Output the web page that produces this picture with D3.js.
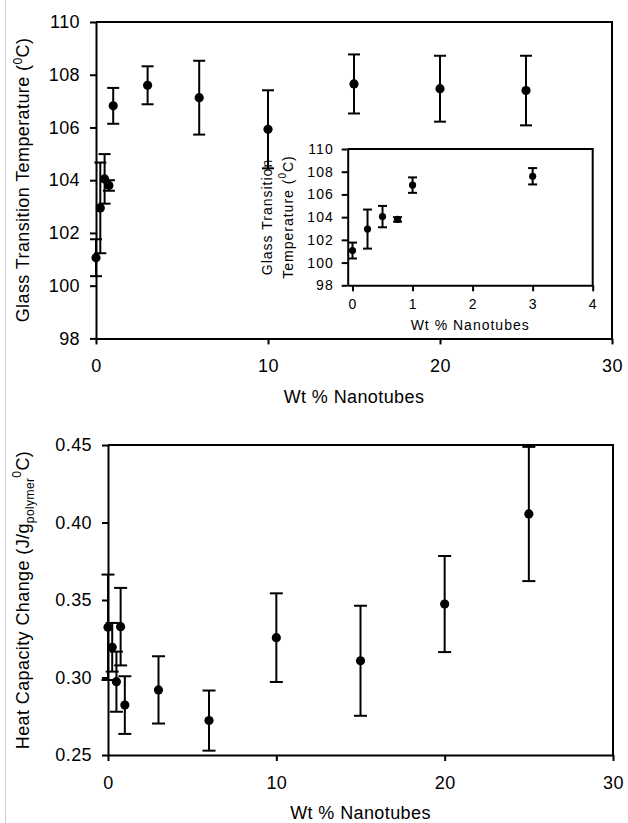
<!DOCTYPE html>
<html>
<head>
<meta charset="utf-8">
<script src="https://cdn.jsdelivr.net/npm/d3@7"></script>
<style>
  body { margin: 0; background: #fff; }
  svg { display: block; font-family: Arial, "Liberation Sans", sans-serif; }
</style>
</head>
<body>
<script>
// wt % nanotubes (same loadings for both panels)
var wt = [0, 0.25, 0.5, 0.75, 1, 3, 6, 10, 15, 20, 25];
// glass transition temperature (C) and its error bar
var tg    = [101.06, 102.95, 104.05, 103.8, 106.82, 107.6, 107.13, 105.93, 107.65, 107.47, 107.4];
var tgErr = [0.7, 1.72, 0.94, 0.2, 0.68, 0.72, 1.4, 1.48, 1.12, 1.25, 1.32];
// heat capacity change (J/g polymer C) and its error bar
var cp    = [0.3324, 0.3195, 0.2973, 0.3328, 0.2822, 0.292, 0.2722, 0.3257, 0.3108, 0.3474, 0.4055];
var cpErr = [0.034, 0.0157, 0.0194, 0.025, 0.0186, 0.0217, 0.0194, 0.0286, 0.0355, 0.031, 0.0433];

var wtTicks    = [0, 10, 20, 30];
var insetTicks = [0, 1, 2, 3, 4];
var tgTicks    = [98, 100, 102, 104, 106, 108, 110];
var cpTicks    = [0.25, 0.30, 0.35, 0.40, 0.45];

var width = 628, height = 823;

var svg = d3.select("body").append("svg")
    .attr("width", width)
    .attr("height", height);

// thin grey page edge on the left
svg.append("line")
    .attr("x1", 5.5).attr("x2", 5.5)
    .attr("y1", 0).attr("y2", height)
    .attr("stroke", "#cfcfcf")
    .attr("stroke-width", 1);

function panel(o)
{
    var g = svg.append("g");
    var xScale = d3.scaleLinear().domain(o.xDom).range(o.xRange);
    var yScale = d3.scaleLinear().domain(o.yDom).range(o.yRange);

    var left = o.xRange[0], right = o.xRange[1];
    var top = o.yRange[1], bottom = o.yRange[0];

    if (o.fill)
    {
        g.append("rect")
            .attr("x", left).attr("y", top)
            .attr("width", right - left).attr("height", bottom - top)
            .attr("fill", "#fff");
    }

    // top and right frame
    g.append("path")
        .attr("d", "M" + left + "," + top + "H" + right + "V" + bottom)
        .attr("fill", "none")
        .attr("stroke", "#000")
        .attr("stroke-width", 2);

    var xAxis = d3.axisBottom(xScale)
        .tickValues(o.xTicks)
        .tickSize(6).tickSizeOuter(0)
        .tickPadding(o.xPad)
        .tickFormat(d3.format("d"));
    var yAxis = d3.axisLeft(yScale)
        .tickValues(o.yTicks)
        .tickSize(6).tickSizeOuter(0)
        .tickPadding(o.yPad)
        .tickFormat(d3.format(o.yFmt));

    var gx = g.append("g")
        .attr("transform", "translate(0," + bottom + ")")
        .call(xAxis);
    var gy = g.append("g")
        .attr("transform", "translate(" + left + ",0)")
        .call(yAxis);

    [gx, gy].forEach(function (a)
    {
        a.select(".domain").attr("stroke-width", 2);
        a.selectAll(".tick line").attr("stroke-width", 2);
        a.selectAll("text")
            .attr("font-size", o.font + "px")
            .attr("font-family", "Arial, 'Liberation Sans', sans-serif")
            .attr("letter-spacing", o.spacing)
            .attr("fill", "#000");
    });

    // error bars
    var data = o.xs.map(function (x, i) { return {x: x, y: o.ys[i], e: o.errs[i]}; })
        .filter(function (d) { return d.x <= o.xDom[1]; });

    var bars = g.append("g")
        .attr("stroke", "#000")
        .attr("stroke-width", 2);
    data.forEach(function (d)
    {
        var cx = xScale(d.x);
        var yHi = yScale(d.y + d.e), yLo = yScale(d.y - d.e);
        bars.append("line").attr("x1", cx).attr("x2", cx).attr("y1", yHi).attr("y2", yLo);
        bars.append("line").attr("x1", cx - o.cap).attr("x2", cx + o.cap).attr("y1", yHi).attr("y2", yHi);
        bars.append("line").attr("x1", cx - o.cap).attr("x2", cx + o.cap).attr("y1", yLo).attr("y2", yLo);
    });

    g.append("g").selectAll("circle")
        .data(data)
        .enter().append("circle")
        .attr("cx", function (d) { return xScale(d.x); })
        .attr("cy", function (d) { return yScale(d.y); })
        .attr("r", o.r)
        .attr("fill", "#000");

    // x title
    g.append("text")
        .attr("x", (left + right) / 2)
        .attr("y", o.xTitleY)
        .attr("text-anchor", "middle")
        .attr("font-size", o.titleFont + "px")
        .attr("letter-spacing", o.spacing)
        .text("Wt % Nanotubes");

    return g;
}

function supC(t, size, prefix)
{
    // "(" + superscript 0 + "C)"
    t.append("tspan").text(prefix);
    t.append("tspan").attr("font-size", size + "px").attr("dy", -7).text("0");
    t.append("tspan").attr("dy", 7).text("C)");
}

// ---- top panel: glass transition temperature ----
panel({
    xDom: [0, 30], xRange: [96, 612],
    yDom: [98, 110], yRange: [338.4, 22],
    xTicks: wtTicks, yTicks: tgTicks, yFmt: "d",
    xPad: 15, yPad: 10, font: 18, titleFont: 18, spacing: 0.4,
    xs: wt, ys: tg, errs: tgErr, r: 4.6, cap: 6,
    xTitleY: 403
});

var t1 = svg.append("text")
    .attr("transform", "translate(29,180) rotate(-90)")
    .attr("text-anchor", "middle")
    .attr("font-size", "18px")
    .attr("letter-spacing", 0.4);
supC(t1, 12, "Glass Transition Temperature (");

// inset
panel({
    xDom: [-0.08, 4], xRange: [347.7, 592.7],
    yDom: [98, 110], yRange: [285.3, 149],
    xTicks: insetTicks, yTicks: tgTicks, yFmt: "d",
    xPad: 8, yPad: 8, font: 14, titleFont: 14, spacing: 1,
    xs: wt, ys: tg, errs: tgErr, r: 3.6, cap: 4.5,
    xTitleY: 330, fill: true
});

svg.append("text")
    .attr("transform", "translate(272,217) rotate(-90)")
    .attr("text-anchor", "middle")
    .attr("font-size", "14px")
    .attr("letter-spacing", 1)
    .text("Glass Transition");
var t2 = svg.append("text")
    .attr("transform", "translate(293,217) rotate(-90)")
    .attr("text-anchor", "middle")
    .attr("font-size", "14px")
    .attr("letter-spacing", 1);
supC(t2, 10, "Temperature (");

// ---- bottom panel: heat capacity change ----
panel({
    xDom: [0, 30], xRange: [108, 613],
    yDom: [0.25, 0.45], yRange: [755, 445],
    xTicks: wtTicks, yTicks: cpTicks, yFmt: ".2f",
    xPad: 15, yPad: 10, font: 18, titleFont: 18, spacing: 0.4,
    xs: wt, ys: cp, errs: cpErr, r: 4.6, cap: 6.5,
    xTitleY: 819
});

var t3 = svg.append("text")
    .attr("transform", "translate(29,600) rotate(-90)")
    .attr("text-anchor", "middle")
    .attr("font-size", "18px")
    .attr("letter-spacing", 0.4);
t3.append("tspan").text("Heat Capacity Change (J/g");
t3.append("tspan").attr("font-size", "12px").attr("dy", 5).text("polymer");
t3.append("tspan").attr("font-size", "12px").attr("dy", -13).text("0");
t3.append("tspan").attr("dy", 8).text("C)");
</script>
</body>
</html>
